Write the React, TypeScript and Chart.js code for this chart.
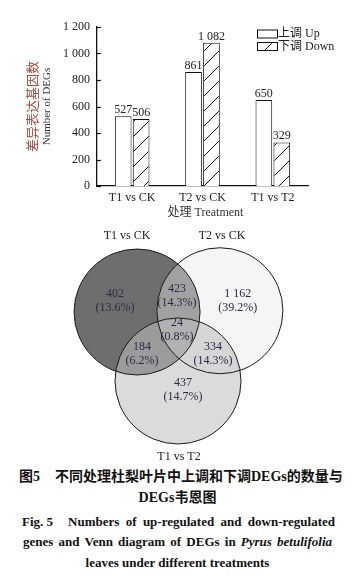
import React, { useEffect, useRef } from "react";
import { Chart, registerables } from "chart.js";

Chart.register(...registerables);

// ---------- data ----------
const categories = ["T1 vs CK", "T2 vs CK", "T1 vs T2"];
const upValues = [527, 861, 650];
const downValues = [506, 1082, 329];
const seriesLabels = ["上调 Up", "下调 Down"];
const yTickValues = [0, 200, 400, 600, 800, 1000, 1200];
const yTickLabels = ["0", "200", "400", "600", "800", "1 000", "1 200"];

const vennSets = ["T1 vs CK", "T2 vs CK", "T1 vs T2"];
// regions: A only, A∩B, B only, A∩B∩C, A∩C, B∩C, C only
const vennCounts = [402, 423, 1162, 24, 184, 334, 437];
const vennPercents = ["13.6", "14.3", "39.2", "0.8", "6.2", "14.3", "14.7"];

// ---------- layout / style constants ----------
const SERIF = "'Liberation Serif', 'Noto Sans CJK SC', serif";
const W = 355;
const BAR_H = 225;
const VENN_TOP = 225;
const VENN_H = 240;
const UNIT = 63; // venn circle radius in px (1 layout unit)
const ORIGIN_X = 178;
const ORIGIN_Y = 87;
const circleCenters = [
  [-0.65, 0],
  [0.665, 0.02],
  [0.0, -1.095],
];
const circleFills = [
  "rgb(110,110,110)",
  "rgba(230,230,230,0.42)",
  "rgba(190,190,190,0.56)",
];
const setLabelPos = [
  [-0.81, 1.206],
  [0.7, 1.206],
  [0.016, -2.3],
];
const regionLabelPos = [
  [-1.0, 0.17],
  [-0.016, 0.26],
  [0.95, 0.17],
  [-0.016, -0.28],
  [-0.571, -0.66],
  [0.556, -0.66],
  [0.079, -1.23],
];

function fmt(n: number): string {
  const s = String(n);
  return s.length > 3 ? s.slice(0, s.length - 3) + " " + s.slice(-3) : s;
}

function makeHatch(ctx: CanvasRenderingContext2D): CanvasPattern | string {
  const c = document.createElement("canvas");
  const p = 15;
  c.width = p;
  c.height = p;
  const g = c.getContext("2d")!;
  g.fillStyle = "#fff";
  g.fillRect(0, 0, p, p);
  g.strokeStyle = "#111";
  g.lineWidth = 1;
  g.beginPath();
  g.moveTo(0, p);
  g.lineTo(p, 0);
  g.moveTo(-2, 2);
  g.lineTo(2, -2);
  g.moveTo(p - 2, p + 2);
  g.lineTo(p + 2, p - 2);
  g.stroke();
  return ctx.createPattern(c, "repeat") || "#fff";
}

const barDecor = {
  id: "barDecor",
  afterDraw(chart: any) {
    const { ctx, chartArea: ca, scales } = chart;
    const ys = scales.y;
    ctx.save();
    // inward tick marks
    ctx.strokeStyle = "#111";
    ctx.lineWidth = 1.2;
    ys.ticks.forEach((t: any) => {
      const py = Math.round(ys.getPixelForValue(t.value)) + 0.5;
      ctx.beginPath();
      ctx.moveTo(ca.left, py);
      ctx.lineTo(ca.left + 4, py);
      ctx.stroke();
    });
    // value labels
    ctx.font = `12px ${SERIF}`;
    ctx.fillStyle = "#222";
    ctx.textAlign = "center";
    ctx.textBaseline = "alphabetic";
    chart.data.datasets.forEach((ds: any, i: number) => {
      const meta = chart.getDatasetMeta(i);
      meta.data.forEach((el: any, j: number) => {
        ctx.fillText(fmt(ds.data[j]), el.x, el.y - 3);
      });
    });
    // legend
    const lx = ca.right - 51;
    chart.data.datasets.forEach((ds: any, i: number) => {
      const top = ca.top + 2.5 + i * 12.5;
      ctx.fillStyle = ds.backgroundColor;
      ctx.fillRect(lx, top, 20, 8);
      ctx.strokeStyle = "#111";
      ctx.lineWidth = 1;
      ctx.strokeRect(lx + 0.5, top + 0.5, 20, 8);
      ctx.fillStyle = "#222";
      ctx.textAlign = "left";
      ctx.textBaseline = "middle";
      ctx.font = `12px ${SERIF}`;
      ctx.fillText(ds.label, lx + 21, top + 4.5);
    });
    // y titles
    const midY = (ca.top + ca.bottom) / 2;
    ctx.save();
    ctx.translate(32, midY);
    ctx.rotate(-Math.PI / 2);
    ctx.textAlign = "center";
    ctx.textBaseline = "middle";
    ctx.font = `13px 'Noto Sans CJK SC', ${SERIF}`;
    ctx.fillStyle = "#a04b3c";
    ctx.fillText("差异表达基因数", 0, 0);
    ctx.restore();
    ctx.save();
    ctx.translate(47, midY);
    ctx.rotate(-Math.PI / 2);
    ctx.textAlign = "center";
    ctx.textBaseline = "middle";
    ctx.font = `11px ${SERIF}`;
    ctx.fillStyle = "#333";
    ctx.fillText("Number of DEGs", 0, 0);
    ctx.restore();
    // x title
    ctx.textAlign = "center";
    ctx.textBaseline = "middle";
    ctx.font = `12px ${SERIF}`;
    ctx.fillStyle = "#333";
    ctx.fillText("处理 Treatment", (ca.left + ca.right) / 2 + 3, ca.bottom + 27);
    ctx.restore();
  },
};

const vennDecor = {
  id: "vennDecor",
  afterDraw(chart: any) {
    const { ctx, scales } = chart;
    const xs = scales.x;
    const ys = scales.y;
    ctx.save();
    ctx.textAlign = "center";
    ctx.textBaseline = "middle";
    ctx.font = `12px ${SERIF}`;
    ctx.fillStyle = "#222";
    vennSets.forEach((name, i) => {
      ctx.fillText(name, xs.getPixelForValue(setLabelPos[i][0]), ys.getPixelForValue(setLabelPos[i][1]));
    });
    ctx.fillStyle = "#2a2a48";
    vennCounts.forEach((n, i) => {
      const px = xs.getPixelForValue(regionLabelPos[i][0]);
      const py = ys.getPixelForValue(regionLabelPos[i][1]);
      ctx.fillText(fmt(n), px, py - 7);
      ctx.fillText(`(${vennPercents[i]}%)`, px, py + 7);
    });
    ctx.restore();
  },
};

export default function App() {
  const barRef = useRef<HTMLCanvasElement>(null);
  const vennRef = useRef<HTMLCanvasElement>(null);

  useEffect(() => {
    document.body.style.margin = "0";
    Chart.defaults.font.family = SERIF;
    const bctx = barRef.current!.getContext("2d")!;
    const hatch = makeHatch(bctx);
    const bar = new Chart(bctx, {
      type: "bar",
      data: {
        labels: categories,
        datasets: [
          {
            label: seriesLabels[0],
            data: upValues,
            backgroundColor: "#ffffff",
            borderColor: "#111",
            borderWidth: 1,
            categoryPercentage: 0.51,
            barPercentage: 0.93,
          },
          {
            label: seriesLabels[1],
            data: downValues,
            backgroundColor: hatch as any,
            borderColor: "#111",
            borderWidth: 1,
            categoryPercentage: 0.51,
            barPercentage: 0.93,
          },
        ],
      },
      options: {
        animation: false,
        responsive: false,
        events: [],
        layout: { padding: { left: 0, top: 27, right: 47, bottom: 0 } },
        plugins: { legend: { display: false }, tooltip: { enabled: false } },
        scales: {
          x: {
            grid: { display: false, drawTicks: false },
            border: { display: true, color: "#111", width: 1.3 },
            ticks: { color: "#222", font: { size: 12, family: SERIF }, padding: 5, maxRotation: 0 },
            afterFit: (s: any) => {
              s.height = 39;
            },
          },
          y: {
            min: 0,
            max: 1200,
            grid: { display: false, drawTicks: false },
            border: { display: true, color: "#111", width: 1.3 },
            ticks: {
              stepSize: 200,
              color: "#222",
              font: { size: 12, family: SERIF },
              padding: 7,
              callback: (v: any) => {
                const k = yTickValues.indexOf(Number(v));
                return k >= 0 ? yTickLabels[k] : "";
              },
            },
            afterFit: (s: any) => {
              s.width = 97;
            },
          },
        },
      },
      plugins: [barDecor],
    });

    const vctx = vennRef.current!.getContext("2d")!;
    const fillPts = circleCenters.map(([x, y]) => ({ x, y, r: UNIT }));
    const linePts = circleCenters.map(([x, y]) => ({ x, y, r: UNIT }));
    const venn = new Chart(vctx, {
      type: "bubble",
      data: {
        datasets: [
          {
            label: "fill",
            data: fillPts,
            backgroundColor: circleFills,
            borderWidth: 0,
            order: 2,
            clip: false as any,
          },
          {
            label: "outline",
            data: linePts,
            backgroundColor: "rgba(0,0,0,0)",
            borderColor: "#1a1a1a",
            borderWidth: 1,
            order: 1,
            clip: false as any,
          },
        ],
      },
      options: {
        animation: false,
        responsive: false,
        events: [],
        layout: { padding: 0, autoPadding: false },
        plugins: { legend: { display: false }, tooltip: { enabled: false } },
        scales: {
          x: { type: "linear", display: false, min: -ORIGIN_X / UNIT, max: (W - ORIGIN_X) / UNIT },
          y: { type: "linear", display: false, min: -(VENN_H - ORIGIN_Y) / UNIT, max: ORIGIN_Y / UNIT },
        },
      },
      plugins: [vennDecor],
    });

    return () => {
      bar.destroy();
      venn.destroy();
    };
  }, []);

  const cn = `${SERIF}`;
  const en = "'Liberation Serif', 'Times New Roman', serif";
  const line = (top: number): React.CSSProperties => ({
    position: "absolute",
    top: top - 10,
    height: 20,
    lineHeight: "20px",
    whiteSpace: "nowrap",
    fontWeight: 700,
    color: "#111",
  });

  return (
    <div style={{ position: "absolute", left: 0, top: 0, width: W, height: 580, background: "#fff", overflow: "hidden" }}>
      <canvas ref={barRef} width={W} height={BAR_H} style={{ position: "absolute", left: 0, top: 0, width: W, height: BAR_H }} />
      <canvas ref={vennRef} width={W} height={VENN_H} style={{ position: "absolute", left: 0, top: VENN_TOP, width: W, height: VENN_H }} />
      <div style={{ ...line(477), left: 19, width: 321, display: "flex", fontFamily: cn, fontSize: 14 }}>
        <span>图5</span>
        <span style={{ flex: 1, marginLeft: 15, textAlign: "justify", textAlignLast: "justify" as any }}>
          不同处理杜梨叶片中上调和下调DEGs的数量与
        </span>
      </div>
      <div style={{ ...line(498), left: 0, width: W, textAlign: "center", fontFamily: cn, fontSize: 14 }}>DEGs韦恩图</div>
      <div style={{ ...line(522), left: 22, width: 313, display: "flex", fontFamily: en, fontSize: 13 }}>
        <span>Fig. 5</span>
        <span style={{ flex: 1, marginLeft: 15, textAlign: "justify", textAlignLast: "justify" as any }}>
          Numbers of up-regulated and down-regulated
        </span>
      </div>
      <div style={{ ...line(542), left: 23, width: 309, fontFamily: en, fontSize: 13, textAlign: "justify", textAlignLast: "justify" as any }}>
        genes and Venn diagram of DEGs in <i>Pyrus betulifolia</i>
      </div>
      <div style={{ ...line(563), left: 0, width: W, textAlign: "center", fontFamily: en, fontSize: 13 }}>
        leaves under different treatments
      </div>
    </div>
  );
}
